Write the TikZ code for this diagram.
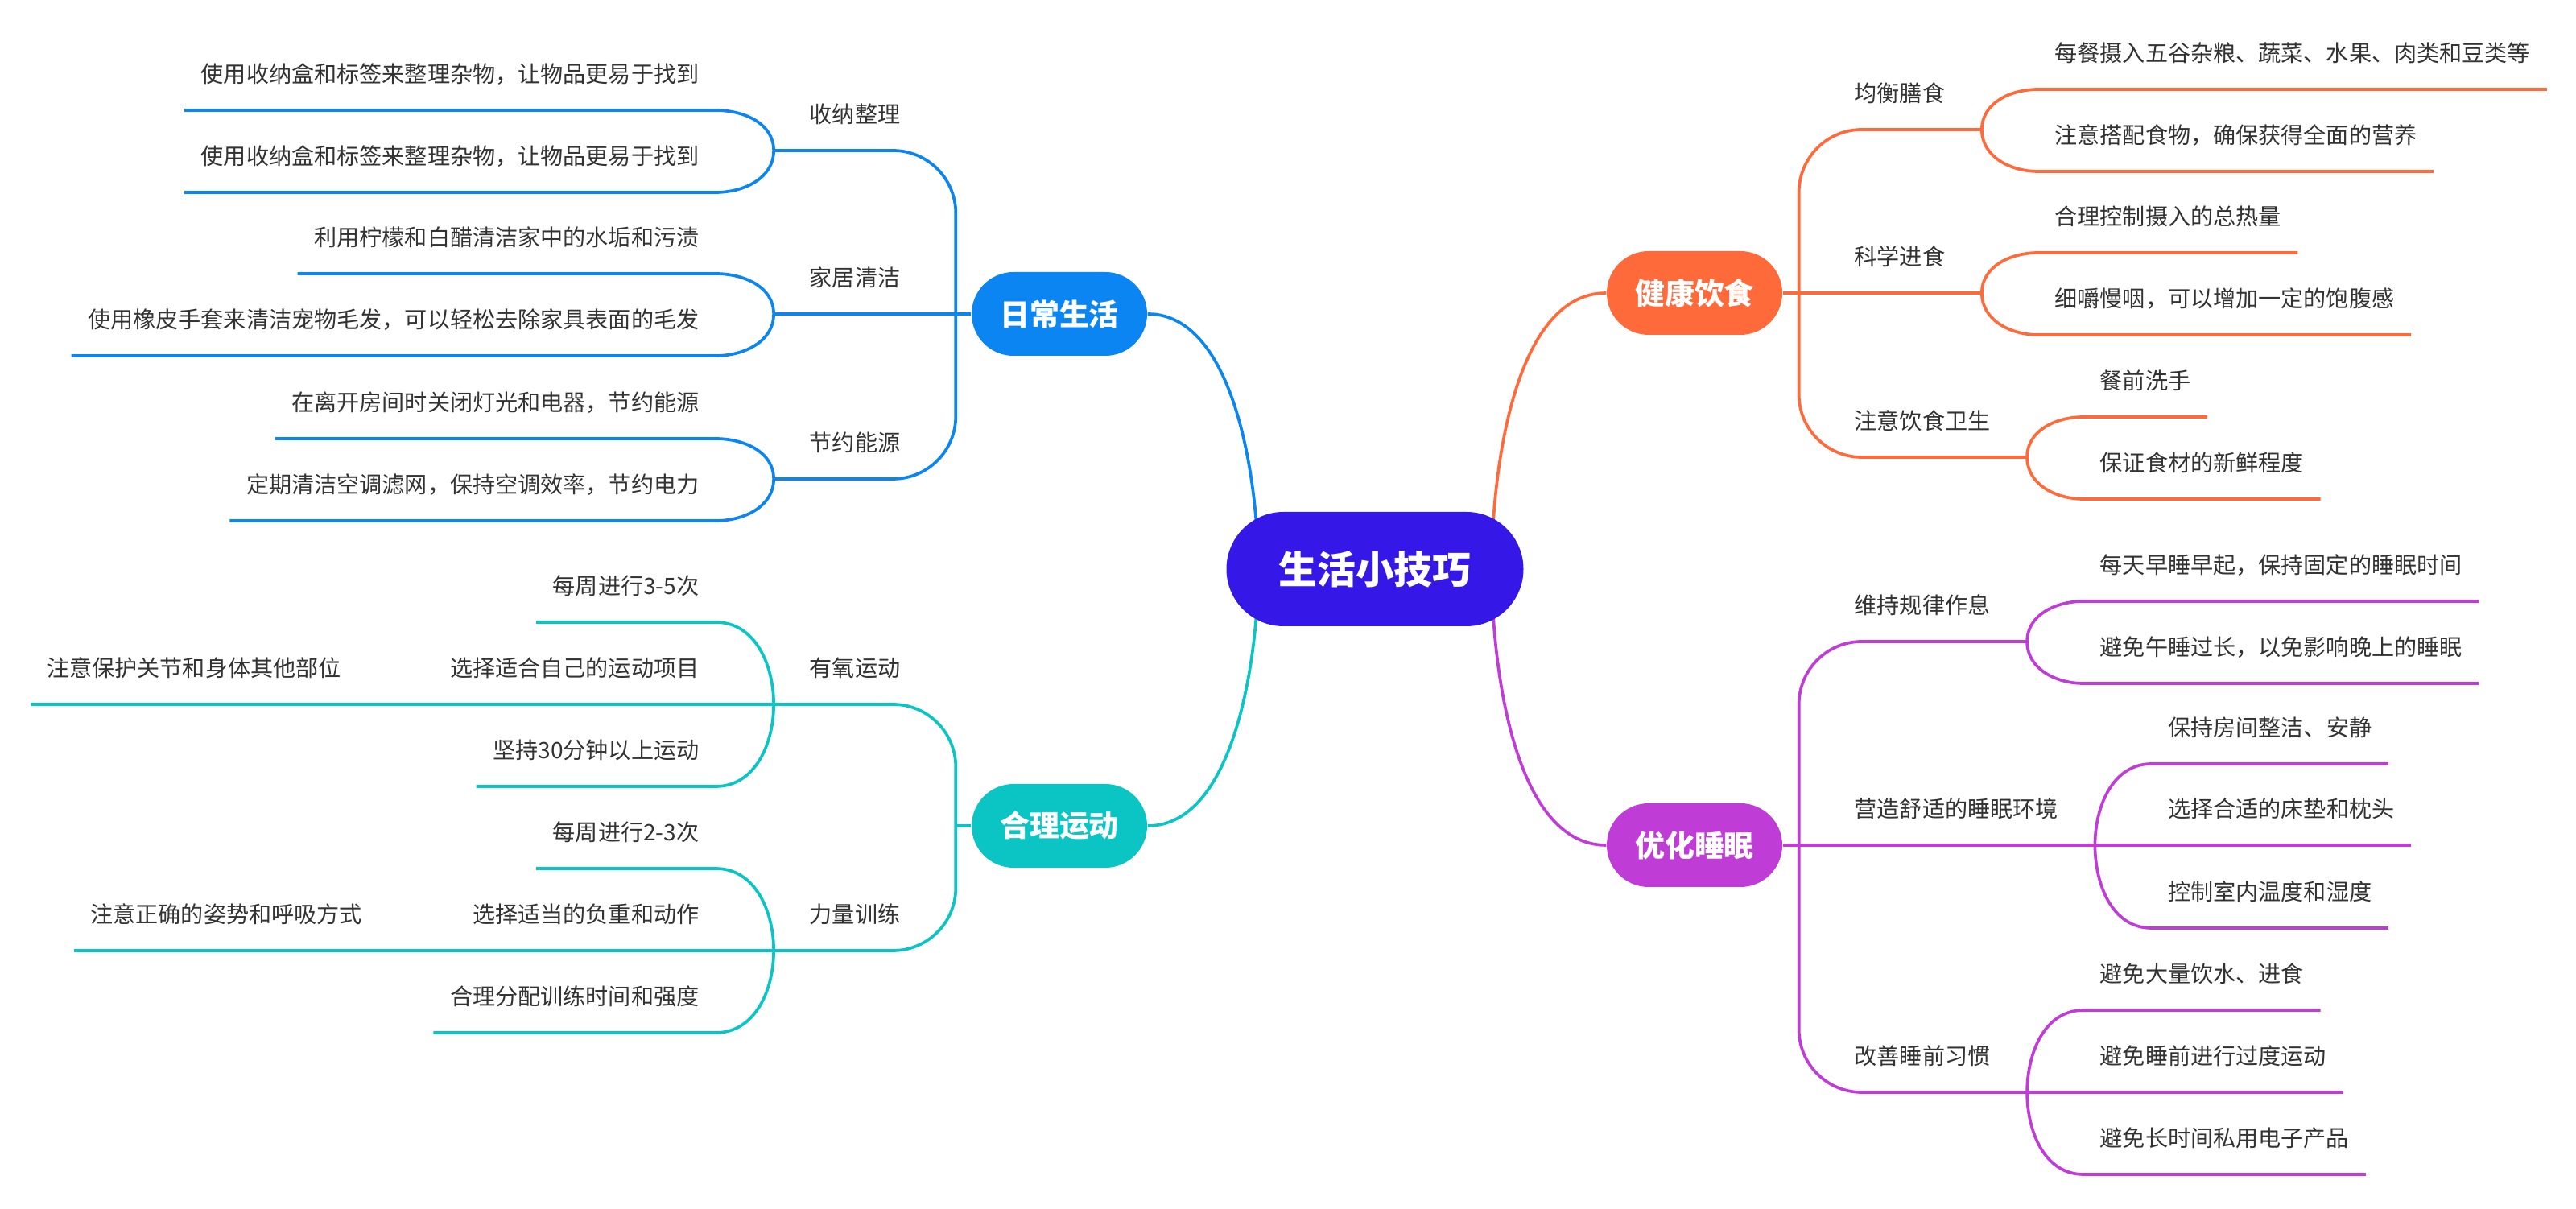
\documentclass[tikz,border=0pt]{standalone}
\usepackage{fontspec}
\setmainfont{Noto Sans CJK SC}
\usetikzlibrary{positioning,calc,backgrounds}
\definecolor{rootc}{HTML}{3518E8}
\definecolor{dailyc}{HTML}{0A85F2}
\definecolor{dietc}{HTML}{FF6A3B}
\definecolor{sportc}{HTML}{0BC4C4}
\definecolor{sleepc}{HTML}{BF3DD6}
\definecolor{txt}{HTML}{333333}

\begin{document}
\begin{tikzpicture}[
    leaf/.style={font=\fontsize{8pt}{9.6pt}\selectfont, text=txt, inner xsep=0.2cm, inner ysep=0.29cm, text height=0.25cm, text depth=0.05cm},
    main/.style={rounded corners=0.52cm, minimum width=2.18cm, minimum height=1.04cm, text=white, font=\fontsize{10.5pt}{12pt}\selectfont\bfseries},
    link/.style={line width=1.05pt},
    trunk/.style={line width=1.05pt, rounded corners=0.78cm}
  ]
  \useasboundingbox (0,0) rectangle (32,-15.02);

  % centre and the four topics
  \node[main, fill=rootc, rounded corners=0.71cm, minimum width=3.69cm, minimum height=1.42cm, font=\fontsize{13.6pt}{16pt}\selectfont\bfseries] (root) at (17.08,-7.07) {生活小技巧};
  \node[main, fill=dailyc] (daily) at (13.16,-3.90) {日常生活};
  \node[main, fill=sportc] (sport) at (13.16,-10.26) {合理运动};
  \node[main, fill=dietc] (diet) at (21.05,-3.64) {健康饮食};
  \node[main, fill=sleepc] (sleep) at (21.05,-10.50) {优化睡眠};

  \begin{scope}[on background layer]
    \fill[white] (0,0) rectangle (32,-15.02);
    \draw[link, dailyc] ($(root.center)+(-1.45,0)$) to[out=90,in=0,looseness=0.8] (daily.east);
    \draw[link, sportc] ($(root.center)+(-1.45,0)$) to[out=-90,in=0,looseness=0.8] (sport.east);
    \draw[link, dietc] ($(root.center)+(1.45,0)$) to[out=90,in=180,looseness=0.8] (diet.west);
    \draw[link, sleepc] ($(root.center)+(1.45,0)$) to[out=-90,in=180,looseness=0.8] (sleep.west);
  \end{scope}

  % 日常生活
  \coordinate (dt) at ($(daily.west)+(-0.19,0)$);
  \node[leaf, anchor=south east] (d1) at (11.39,-1.87) {收纳整理};
  \node[leaf, anchor=south east] (d2) at (11.39,-3.90) {家居清洁};
  \node[leaf, anchor=south east] (d3) at (11.39,-5.95) {节约能源};
  \foreach \s in {d1,d2,d3} \coordinate (b\s) at ($(\s.south west)+(-0.24,0)$);
  \draw[trunk, dailyc] (dt) |- (bd1);
  \draw[link, dailyc] (daily.west) -- (bd2);
  \draw[trunk, dailyc] (dt) |- (bd3);
  \foreach \src/\n/\dy/\ang/\lbl in {
      bd1/d11/0.5/90/使用收纳盒和标签来整理杂物，让物品更易于找到,
      bd1/d12/-0.52/-90/使用收纳盒和标签来整理杂物，让物品更易于找到,
      bd2/d21/0.5/90/利用柠檬和白醋清洁家中的水垢和污渍,
      bd2/d22/-0.52/-90/使用橡皮手套来清洁宠物毛发，可以轻松去除家具表面的毛发,
      bd3/d31/0.5/90/在离开房间时关闭灯光和电器，节约能源,
      bd3/d32/-0.52/-90/定期清洁空调滤网，保持空调效率，节约电力}{
    \node[leaf, anchor=south east] (\n) at ($(\src)+(-0.72,\dy)$) {\lbl};
    \draw[link, dailyc] (\src) to[out=\ang,in=0] (\n.south east) -- (\n.south west);
  }

  % 合理运动
  \coordinate (st) at ($(sport.west)+(-0.19,0)$);
  \node[leaf, anchor=south east] (s1) at (11.39,-8.75) {有氧运动};
  \node[leaf, anchor=south east] (s2) at (11.39,-11.81) {力量训练};
  \foreach \s in {s1,s2} \coordinate (b\s) at ($(\s.south west)+(-0.24,0)$);
  \draw[link, sportc] (sport.west) -- (st);
  \draw[trunk, sportc] (st) |- (bs1);
  \draw[trunk, sportc] (st) |- (bs2);
  \foreach \src/\n/\dy/\ang/\lbl in {
      bs1/s11/1.02/90/每周进行3-5次,
      bs1/s12/0/180/选择适合自己的运动项目,
      bs1/s13/-1.02/-90/坚持30分钟以上运动,
      bs2/s21/1.02/90/每周进行2-3次,
      bs2/s22/0/180/选择适当的负重和动作,
      bs2/s23/-1.02/-90/合理分配训练时间和强度}{
    \node[leaf, anchor=south east] (\n) at ($(\src)+(-0.72,\dy)$) {\lbl};
    \draw[link, sportc] (\src) to[out=\ang,in=0] (\n.south east) -- (\n.south west);
  }
  \node[leaf, anchor=south east] (s121) at ($(s12.south west)+(-0.94,0)$) {注意保护关节和身体其他部位};
  \node[leaf, anchor=south east] (s221) at ($(s22.south west)+(-0.96,0)$) {注意正确的姿势和呼吸方式};
  \draw[link, sportc] (s12.south west) -- (s121.south west);
  \draw[link, sportc] (s22.south west) -- (s221.south west);

  % 健康饮食
  \coordinate (et) at ($(diet.east)+(0.2,0)$);
  \node[leaf, anchor=south west] (e1) at (22.83,-1.61) {均衡膳食};
  \node[leaf, anchor=south west] (e2) at (22.83,-3.64) {科学进食};
  \node[leaf, anchor=south west] (e3) at (22.83,-5.68) {注意饮食卫生};
  \foreach \s in {e1,e2,e3} \coordinate (b\s) at ($(\s.south east)+(0.25,0)$);
  \draw[trunk, dietc] (et) |- (be1);
  \draw[link, dietc] (diet.east) -- (be2);
  \draw[trunk, dietc] (et) |- (be3);
  \foreach \src/\n/\dy/\ang/\lbl in {
      be1/e11/0.5/90/每餐摄入五谷杂粮、蔬菜、水果、肉类和豆类等,
      be1/e12/-0.52/-90/注意搭配食物，确保获得全面的营养,
      be2/e21/0.5/90/合理控制摄入的总热量,
      be2/e22/-0.52/-90/细嚼慢咽，可以增加一定的饱腹感,
      be3/e31/0.5/90/餐前洗手,
      be3/e32/-0.52/-90/保证食材的新鲜程度}{
    \node[leaf, anchor=south west] (\n) at ($(\src)+(0.7,\dy)$) {\lbl};
    \draw[link, dietc] (\src) to[out=\ang,in=180] (\n.south west) -- (\n.south east);
  }

  % 优化睡眠
  \coordinate (lt) at ($(sleep.east)+(0.2,0)$);
  \node[leaf, anchor=south west] (l1) at (22.83,-7.97) {维持规律作息};
  \node[leaf, anchor=south west] (l2) at (22.83,-10.50) {营造舒适的睡眠环境};
  \node[leaf, anchor=south west] (l3) at (22.83,-13.57) {改善睡前习惯};
  \foreach \s in {l1,l2,l3} \coordinate (b\s) at ($(\s.south east)+(0.25,0)$);
  \draw[trunk, sleepc] (lt) |- (bl1);
  \draw[link, sleepc] (sleep.east) -- (bl2);
  \draw[trunk, sleepc] (lt) |- (bl3);
  \foreach \src/\n/\dy/\ang/\lbl in {
      bl1/l11/0.5/90/每天早睡早起，保持固定的睡眠时间,
      bl1/l12/-0.52/-90/避免午睡过长，以免影响晚上的睡眠,
      bl2/l21/1.01/90/保持房间整洁、安静,
      bl2/l22/0/0/选择合适的床垫和枕头,
      bl2/l23/-1.03/-90/控制室内温度和湿度,
      bl3/l31/1.02/90/避免大量饮水、进食,
      bl3/l32/0/0/避免睡前进行过度运动,
      bl3/l33/-1.02/-90/避免长时间私用电子产品}{
    \node[leaf, anchor=south west] (\n) at ($(\src)+(0.7,\dy)$) {\lbl};
    \draw[link, sleepc] (\src) to[out=\ang,in=180] (\n.south west) -- (\n.south east);
  }
\end{tikzpicture}
\end{document}
